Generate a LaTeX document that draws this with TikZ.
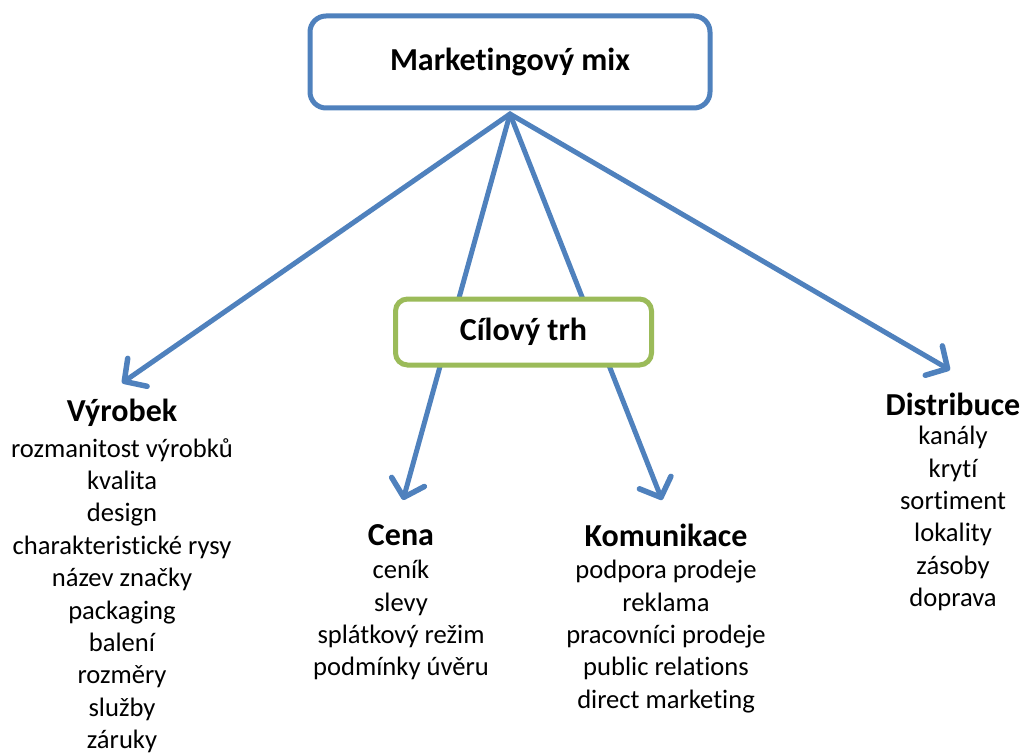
\documentclass[tikz,border=0pt]{standalone}
\usepackage{fontspec}
\setmainfont[Ligatures=NoCommon]{Carlito}
\usetikzlibrary{arrows.meta}
\definecolor{mblue}{HTML}{4F81BD}
\definecolor{mgreen}{HTML}{9BBB59}
\begin{document}
\begin{tikzpicture}[x=1pt,y=-1pt,
  conn/.style={draw=mblue,line width=5pt,line cap=round,-{Straight Barb[length=16pt,width=34pt,line width=5.5pt,round]}},
  topbox/.style={draw=mblue,line width=5pt,rounded corners=16pt,fill=white,minimum width=400pt,minimum height=92pt,font=\fontsize{32}{36}\selectfont\bfseries},
  targetbox/.style={draw=mgreen,line width=5pt,rounded corners=12pt,fill=white,minimum width=256pt,minimum height=66pt,font=\fontsize{32}{36}\selectfont\bfseries},
  head/.style={font=\fontsize{32}{36}\selectfont\bfseries,inner sep=0pt},
  items/.style={font=\fontsize{26.6}{32.4}\selectfont,align=center,inner sep=0pt,anchor=north}
]
\useasboundingbox (0,0) rectangle (1022,754);
\coordinate (src) at (510,114);
\coordinate (tv) at (122,383);
\coordinate (tc) at (403,500);
\coordinate (tk) at (662,500);
\coordinate (td) at (950,370);
\draw[conn] (src) -- (tv);
\draw[conn] (src) -- (tc);
\draw[conn] (src) -- (tk);
\draw[conn] (src) -- (td);
\node[topbox] (mix) at (510,62) {Marketingový mix};
\node[targetbox] (target) at (523.5,332) {Cílový trh};

\node[head] (vyr) at (122,413) {Výrobek};
\node[items] (vyri) at (122,438) {rozmanitost výrobků\\kvalita\\design\\charakteristické rysy\\název značky\\packaging\\balení\\rozměry\\služby\\záruky};

\node[head] (cena) at (401,535) {Cena};
\node[items] (cenai) at (401,560) {ceník\\slevy\\splátkový režim\\podmínky úvěru};

\node[head] (kom) at (666,535) {Komunikace};
\node[items] (komi) at (666,560) {podpora prodeje\\reklama\\pracovníci prodeje\\public relations\\direct marketing};

\node[head] (dis) at (953,404) {Distribuce};
\node[items] (disi) at (953,426) {kanály\\krytí\\sortiment\\lokality\\zásoby\\doprava};
\end{tikzpicture}
\end{document}
